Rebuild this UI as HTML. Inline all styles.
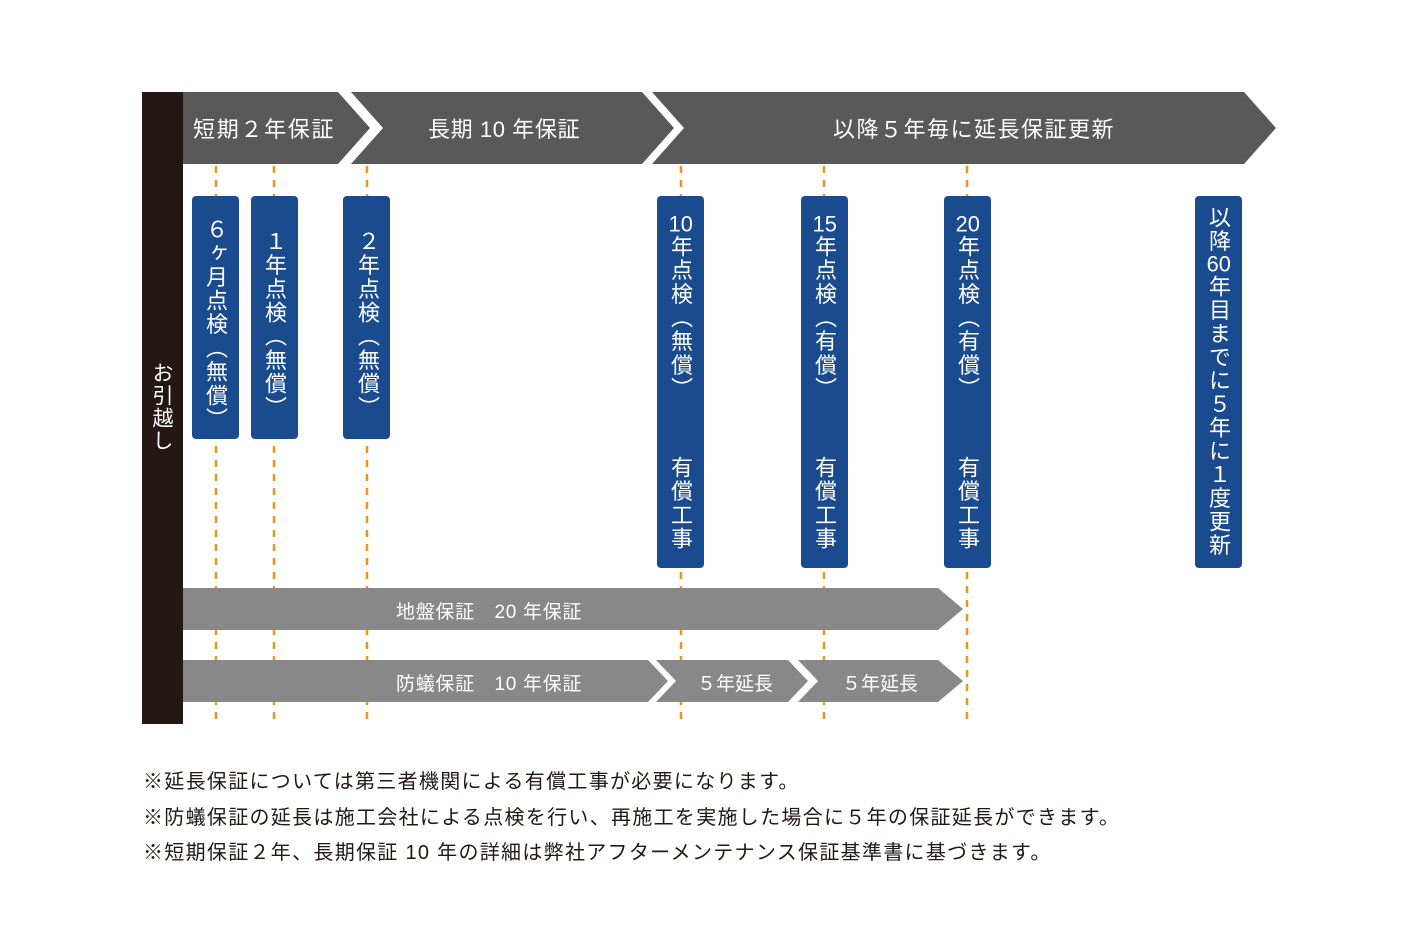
<!DOCTYPE html>
<html><head><meta charset="utf-8"><style>
body{margin:0;background:#fff;width:1418px;height:946px;position:relative;overflow:hidden;font-family:"Liberation Sans","Noto Sans CJK JP",sans-serif;}
.t{position:absolute;color:#fff;white-space:nowrap;}
.v{position:absolute;writing-mode:vertical-rl;text-orientation:upright;color:#fff;font-size:22px;line-height:1;letter-spacing:1.7px;white-space:nowrap;}
.tc{text-combine-upright:all;}
.note{position:absolute;left:143px;font-size:20px;letter-spacing:1.3px;color:#231815;white-space:nowrap;line-height:1;}
</style></head><body>
<svg width="1418" height="946" style="position:absolute;left:0;top:0">
<g stroke="#e8961e" stroke-width="2.5" stroke-dasharray="7,7">
<line x1="216" y1="166" x2="216" y2="724"/>
<line x1="274" y1="166" x2="274" y2="724"/>
<line x1="367" y1="166" x2="367" y2="724"/>
<line x1="681" y1="166" x2="681" y2="724"/>
<line x1="824" y1="166" x2="824" y2="724"/>
<line x1="967" y1="166" x2="967" y2="724"/>
</g>
<rect x="142" y="92" width="41" height="632" fill="#231815"/>
<g fill="#5a5959">
<polygon points="183,92 338,92 370,128 338,164 183,164"/>
<polygon points="351,92 642,92 674,128 642,164 351,164 383,128"/>
<polygon points="652,92 1244,92 1276,128 1244,164 652,164 684,128"/>
</g>
<g fill="#898888">
<polygon points="183,588 938,588 963,609 938,630 183,630"/>
<polygon points="183,660 648,660 668,681 648,702 183,702"/>
<polygon points="656,660 788,660 808,681 788,702 656,702 676,681"/>
<polygon points="798,660 938,660 963,681 938,702 798,702 818,681"/>
</g>
<g fill="#1b4b8f">
<rect x="192" y="196" width="47" height="243" rx="4"/>
<rect x="251" y="196" width="47" height="243" rx="4"/>
<rect x="343" y="196" width="47" height="243" rx="4"/>
<rect x="657" y="196" width="47" height="372" rx="4"/>
<rect x="801" y="196" width="47" height="372" rx="4"/>
<rect x="944" y="196" width="47" height="372" rx="4"/>
<rect x="1195" y="196" width="47" height="372" rx="4"/>
</g>
</svg>
<div class="t" style="left:193px;top:112px;font-size:22px;letter-spacing:1.7px">短期２年保証</div>
<div class="t" style="left:428px;top:112px;font-size:22px;letter-spacing:0.6px">長期 10 年保証</div>
<div class="t" style="left:833px;top:112px;font-size:22px;letter-spacing:1.5px">以降５年毎に延長保証更新</div>
<div class="t" style="left:396px;top:597px;font-size:19px;letter-spacing:0.7px">地盤保証　20 年保証</div>
<div class="t" style="left:396px;top:669px;font-size:19px;letter-spacing:0.7px">防蟻保証　10 年保証</div>
<div class="t" style="left:697px;top:669px;font-size:19px">５年延長</div>
<div class="t" style="left:842px;top:669px;font-size:19px">５年延長</div>
<div class="v" style="left:151px;top:362px;font-size:21px;letter-spacing:1.5px">お引越し</div>
<div class="v" style="left:204px;top:218px">６ヶ月点検（無償）</div>
<div class="v" style="left:263px;top:230px">１年点検（無償）</div>
<div class="v" style="left:356px;top:230px">２年点検（無償）</div>
<div class="v" style="left:669px;top:213px"><span class="tc">10</span>年点検（無償）</div>
<div class="v" style="left:669px;top:456px">有償工事</div>
<div class="v" style="left:813px;top:213px"><span class="tc">15</span>年点検（有償）</div>
<div class="v" style="left:813px;top:456px">有償工事</div>
<div class="v" style="left:956px;top:213px"><span class="tc">20</span>年点検（有償）</div>
<div class="v" style="left:956px;top:456px">有償工事</div>
<div class="v" style="left:1207px;top:206px;letter-spacing:1.5px">以降<span class="tc">60</span>年目までに５年に１度更新</div>
<div class="note" style="top:772px">※延長保証については第三者機関による有償工事が必要になります。</div>
<div class="note" style="top:808px">※防蟻保証の延長は施工会社による点検を行い、再施工を実施した場合に５年の保証延長ができます。</div>
<div class="note" style="top:843px">※短期保証２年、長期保証 10 年の詳細は弊社アフターメンテナンス保証基準書に基づきます。</div>
</body></html>
